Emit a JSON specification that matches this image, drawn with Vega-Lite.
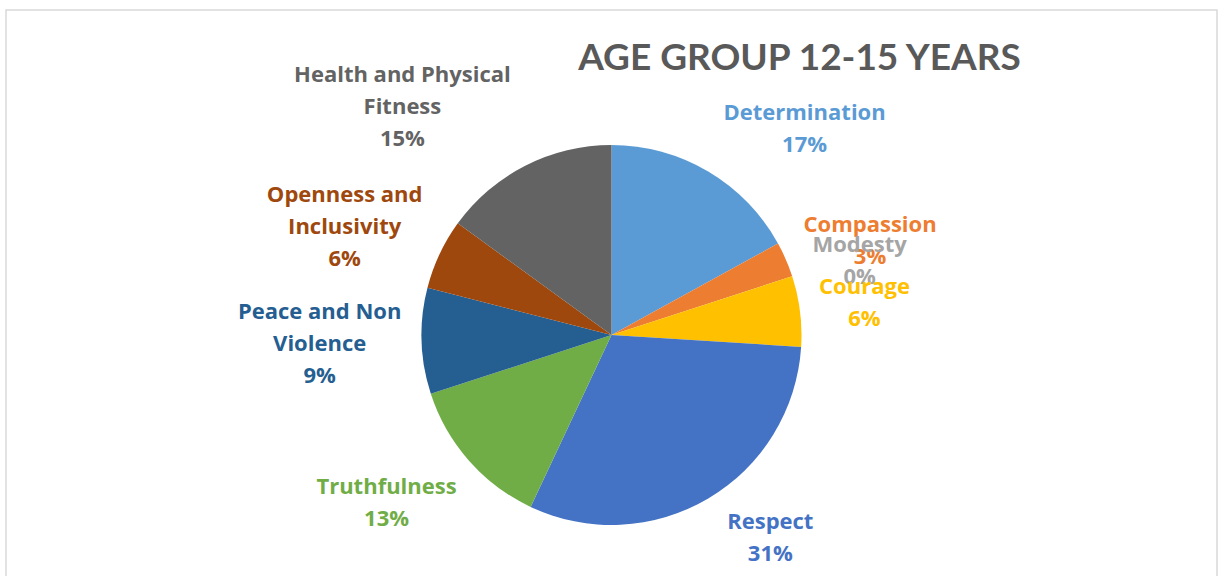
{
  "$schema": "https://vega.github.io/schema/vega-lite/v6.json",
  "width": 1221,
  "height": 576,
  "autosize": {"type": "fit", "contains": "padding"},
  "padding": {"left": 5, "top": 9, "right": 3, "bottom": -85},
  "background": "white",
  "title": {
    "text": "AGE GROUP 12-15 YEARS",
    "font": "Lato",
    "fontSize": 37,
    "fontWeight": "bold",
    "color": "#595959",
    "anchor": "middle",
    "frame": "group",
    "dx": 188,
    "offset": -98,
    "baseline": "alphabetic"
  },
  "layer": [
    {
      "data": {"values": [{"frame": "chart"}]},
      "mark": {"type": "rect", "fill": null, "stroke": "#d9d9d9", "strokeWidth": 1.5},
      "encoding": {}
    },
    {
      "data": {
        "values": [
          {"category": "Determination", "name": "Determination", "value": 17},
          {"category": "Compassion", "name": "Compassion", "value": 3},
          {"category": "Modesty", "name": "Modesty", "value": 0},
          {"category": "Courage", "name": "Courage", "value": 6},
          {"category": "Respect", "name": "Respect", "value": 31},
          {"category": "Truthfulness", "name": "Truthfulness", "value": 13},
          {"category": "Peace and Non Violence", "name": "Peace and Non\nViolence", "value": 9},
          {"category": "Openness and Inclusivity", "name": "Openness and\nInclusivity", "value": 6},
          {"category": "Health and Physical Fitness", "name": "Health and Physical\nFitness", "value": 15}
        ]
      },
      "transform": [
        {"window": [{"op": "row_number", "as": "idx"}]},
        {"calculate": "datum.name + '\\n' + datum.value + '%'", "as": "label"}
      ],
      "encoding": {
        "theta": {"field": "value", "type": "quantitative", "stack": true},
        "order": {"field": "idx", "type": "quantitative"},
        "color": {
          "field": "category",
          "type": "nominal",
          "legend": null,
          "scale": {
            "domain": ["Determination", "Compassion", "Modesty", "Courage", "Respect", "Truthfulness", "Peace and Non Violence", "Openness and Inclusivity", "Health and Physical Fitness"],
            "range": ["#5B9BD5", "#ED7D31", "#A5A5A5", "#FFC000", "#4472C4", "#70AD47", "#255E91", "#9E480E", "#636363"]
          }
        }
      },
      "layer": [
        {"mark": {"type": "arc", "outerRadius": 190}},
        {
          "mark": {
            "type": "text",
            "radius": {"expr": "[282,275,259,255,258,281,292,288,309][datum.idx - 1]"},
            "thetaOffset": {"expr": "[0.220,0.061,0.023,0,-0.129,0.080,0,-0.054,-0.272][datum.idx - 1]"},
            "dy": {"expr": "-(length(split(datum.label, '\\n')) - 1) * 16"},
            "font": "Open Sans",
            "fontSize": 22,
            "fontWeight": "bold",
            "lineBreak": "\n",
            "lineHeight": 32,
            "align": "center",
            "baseline": "middle"
          },
          "encoding": {"text": {"field": "label", "type": "nominal"}}
        }
      ]
    }
  ]
}
